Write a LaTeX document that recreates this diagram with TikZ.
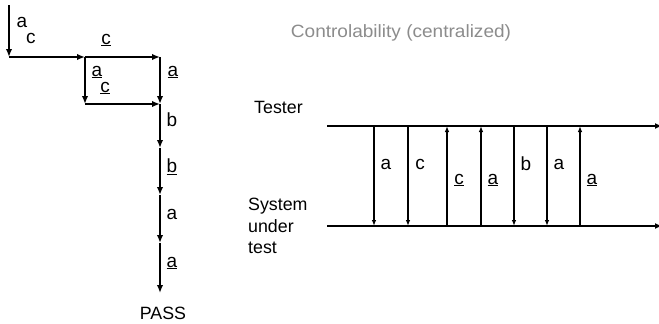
\documentclass[tikz,border=0pt]{standalone}
\usepackage{fontspec}
\setmainfont{Liberation Sans}
\usetikzlibrary{arrows.meta}
\begin{document}
\begin{tikzpicture}[x=1pt,y=-1pt,
  flow/.style={line width=1.8pt,-{Latex[length=8pt,width=6.5pt]}},
  msg/.style={line width=1.1pt,-{Latex[length=6pt,width=4.5pt]}},
  lane/.style={line width=1.8pt,-{Latex[length=7pt,width=6pt]}},
  lbl/.style={font=\fontsize{19}{20}\selectfont,inner sep=0pt},
  txt/.style={font=\fontsize{17.8}{21.5}\selectfont,inner sep=0pt,align=left}]
\useasboundingbox (0,0) rectangle (659,324);

% --- test tree (left) ---
\coordinate (s0) at (9,5);
\coordinate (p1) at (9,57);
\coordinate (p2) at (85,57);
\coordinate (p3) at (160,57);
\coordinate (q1) at (85,104);
\coordinate (q2) at (160,104);
\coordinate (v1) at (160,148);
\coordinate (v2) at (160,195);
\coordinate (v3) at (160,243);
\coordinate (v4) at (160,293);

\draw[flow] (s0) -- (p1);
\draw[flow] (p1) -- (p2);
\draw[flow] (p2) -- (p3);
\draw[flow] (p2) -- (q1);
\draw[flow] (p3) -- (q2);
\draw[flow] (q1) -- (q2);
\draw[flow] (q2) -- (v1);
\draw[flow] (v1) -- (v2);
\draw[flow] (v2) -- (v3);
\draw[flow] (v3) -- (v4);

\node[lbl] (l1) at (22,22) {a};
\node[lbl] (l2) at (31,38) {c};
\node[lbl] (l3) at (106,40) {\underline{c}};
\node[lbl] (l4) at (97,72) {\underline{a}};
\node[lbl] (l5) at (105,88) {\underline{c}};
\node[lbl] (l6) at (173,72) {\underline{a}};
\node[lbl] (l7) at (172,120) {b};
\node[lbl] (l8) at (172,167) {\underline{b}};
\node[lbl] (l9) at (172,214) {a};
\node[lbl] (l10) at (172,263) {\underline{a}};
\node[txt] (pass) at (163,313) {PASS};

% --- controllability (right) ---
\node[txt,text=black!45] (title) at (401,33) {\scalebox{1.07}[1]{Controlability (centralized)}};
\node[txt,anchor=west] (tester) at (254,107) {Tester};
\node[txt,anchor=north west] (sut) at (248,198) {System\\under\\test};

\coordinate (t0) at (327,126);
\coordinate (t1) at (662,126);
\coordinate (b0) at (327,226);
\coordinate (b1) at (662,226);
\draw[lane] (t0) -- (t1);
\draw[lane] (b0) -- (b1);

\foreach \x/\d/\l/\ly in {374/1/a/164, 408/1/c/164, 447/0/\underline{c}/180, 481/0/\underline{a}/180,
                        514/1/b/164, 547/1/a/164, 580/0/\underline{a}/180}{
  \coordinate (u\x) at (\x,126);
  \coordinate (d\x) at (\x,226);
  \ifnum\d=1
    \draw[msg] (u\x) -- (d\x);
  \else
    \draw[msg] (d\x) -- (u\x);
  \fi
  \node[lbl] (m\x) at (\x+12,\ly) {\l};
}
\end{tikzpicture}
\end{document}
